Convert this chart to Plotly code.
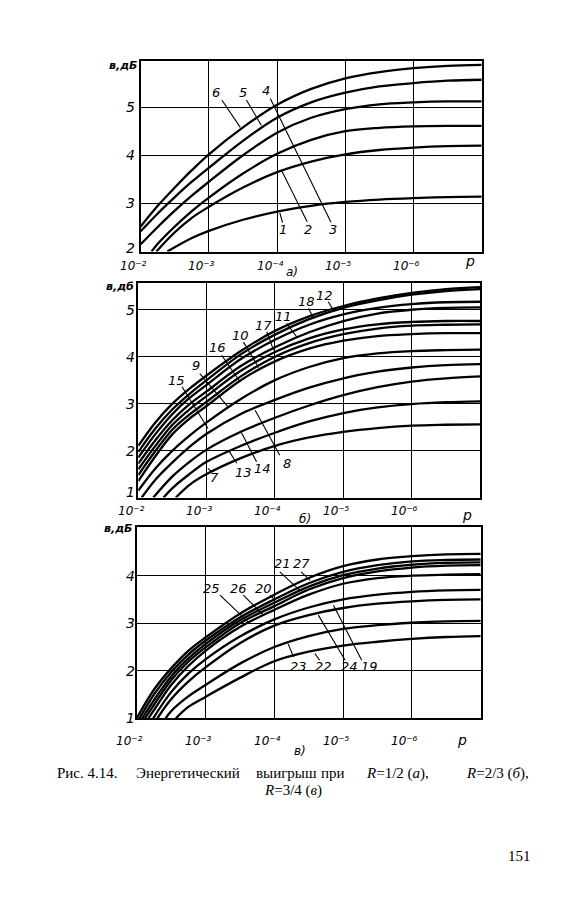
import numpy as np
import plotly.graph_objects as go

# ---------------- data: x = log10(p), y = energy gain в, дБ ----------------
G = [-2, -2.25, -2.5, -2.75, -3, -3.5, -4, -4.5, -5, -5.5, -6, -6.5, -7]

# Panel а) R = 1/2
A_LOGP = {
    "1": [-2.39, -2.75, -3, -3.5, -4, -4.5, -5, -5.5, -6, -6.5, -7],
    "2": [-2.23, -2.5, -2.75, -3, -3.5, -4, -4.5, -5, -5.5, -6, -6.5, -7],
    "3": [-2.16, -2.25, -2.5, -2.75, -3, -3.5, -4, -4.5, -5, -5.5, -6, -6.5, -7],
    "4": G, "5": G, "6": G,
}
A_GAIN = {
    "1": [2.0, 2.28, 2.43, 2.66, 2.83, 2.95, 3.03, 3.08, 3.11, 3.13, 3.14],
    "2": [2.0, 2.40, 2.70, 2.93, 3.33, 3.65, 3.87, 4.02, 4.11, 4.16, 4.19, 4.20],
    "3": [2.0, 2.16, 2.52, 2.84, 3.12, 3.62, 4.03, 4.32, 4.50, 4.57, 4.60, 4.61, 4.61],
    "4": [2.15, 2.51, 2.85, 3.16, 3.45, 4.00, 4.47, 4.78, 4.96, 5.06, 5.10, 5.12, 5.12],
    "5": [2.42, 2.79, 3.13, 3.45, 3.74, 4.30, 4.78, 5.10, 5.30, 5.43, 5.50, 5.55, 5.57],
    "6": [2.52, 2.95, 3.33, 3.69, 4.02, 4.58, 5.05, 5.38, 5.60, 5.73, 5.81, 5.86, 5.88],
}

# Panel б) R = 2/3
B_LOGP = {
    "7": [-2.55, -2.75, -3, -3.5, -4, -4.5, -5, -5.5, -6, -6.5, -7],
    "13": [-2.37, -2.5, -2.75, -3, -3.5, -4, -4.5, -5, -5.5, -6, -6.5, -7],
    "14": [-2.22, -2.5, -2.75, -3, -3.5, -4, -4.5, -5, -5.5, -6, -6.5, -7],
    "8": [-2.05, -2.25, -2.5, -2.75, -3, -3.5, -4, -4.5, -5, -5.5, -6, -6.5, -7],
    "15": G, "9": G, "16": G, "10": G, "17": G, "11": G, "18": G, "12": G,
}
B_GAIN = {
    "7": [1.0, 1.27, 1.50, 1.84, 2.10, 2.28, 2.40, 2.48, 2.53, 2.55, 2.56],
    "13": [1.0, 1.20, 1.50, 1.76, 2.10, 2.38, 2.62, 2.80, 2.92, 2.99, 3.03, 3.05],
    "14": [1.0, 1.45, 1.76, 2.02, 2.40, 2.70, 2.96, 3.18, 3.35, 3.47, 3.54, 3.58],
    "8": [1.0, 1.38, 1.75, 2.08, 2.36, 2.78, 3.08, 3.34, 3.54, 3.68, 3.77, 3.82, 3.84],
    "15": [1.15, 1.62, 2.00, 2.32, 2.60, 3.10, 3.50, 3.78, 3.97, 4.07, 4.12, 4.14, 4.15],
    "9": [1.35, 1.88, 2.35, 2.68, 2.95, 3.50, 3.90, 4.17, 4.34, 4.44, 4.48, 4.50, 4.50],
    "16": [1.48, 1.99, 2.45, 2.77, 3.04, 3.58, 4.00, 4.29, 4.48, 4.60, 4.66, 4.68, 4.69],
    "10": [1.60, 2.10, 2.55, 2.88, 3.16, 3.70, 4.10, 4.39, 4.58, 4.69, 4.74, 4.76, 4.76],
    "17": [1.72, 2.22, 2.65, 2.99, 3.26, 3.80, 4.20, 4.52, 4.76, 4.92, 5.00, 5.04, 5.05],
    "11": [1.85, 2.35, 2.78, 3.12, 3.40, 3.95, 4.36, 4.68, 4.90, 5.04, 5.12, 5.16, 5.17],
    "18": [1.97, 2.47, 2.88, 3.21, 3.50, 4.05, 4.47, 4.80, 5.04, 5.20, 5.32, 5.40, 5.44],
    "12": [2.10, 2.60, 3.00, 3.32, 3.60, 4.12, 4.55, 4.86, 5.08, 5.24, 5.36, 5.44, 5.48],
}

# Panel в) R = 3/4
C_LOGP = {
    "22": [-2.57, -2.75, -3, -3.5, -4, -4.5, -5, -5.5, -6, -6.5, -7],
    "23": [-2.42, -2.5, -2.75, -3, -3.5, -4, -4.5, -5, -5.5, -6, -6.5, -7],
    "24": [-2.30, -2.5, -2.75, -3, -3.5, -4, -4.5, -5, -5.5, -6, -6.5, -7],
    "19": [-2.24, -2.5, -2.75, -3, -3.5, -4, -4.5, -5, -5.5, -6, -6.5, -7],
    "20": [-2.17, -2.25, -2.5, -2.75, -3, -3.5, -4, -4.5, -5, -5.5, -6, -6.5, -7],
    "26": [-2.12, -2.25, -2.5, -2.75, -3, -3.5, -4, -4.5, -5, -5.5, -6, -6.5, -7],
    "25": [-2.08, -2.25, -2.5, -2.75, -3, -3.5, -4, -4.5, -5, -5.5, -6, -6.5, -7],
    "21": [-2.04, -2.25, -2.5, -2.75, -3, -3.5, -4, -4.5, -5, -5.5, -6, -6.5, -7],
    "27": G,
}
C_GAIN = {
    "22": [1.0, 1.24, 1.45, 1.85, 2.20, 2.40, 2.53, 2.61, 2.67, 2.71, 2.73],
    "23": [1.0, 1.15, 1.46, 1.70, 2.15, 2.50, 2.73, 2.88, 2.96, 3.01, 3.04, 3.05],
    "24": [1.0, 1.40, 1.77, 2.07, 2.58, 2.95, 3.17, 3.32, 3.41, 3.46, 3.49, 3.50],
    "19": [1.0, 1.55, 1.94, 2.24, 2.72, 3.08, 3.33, 3.50, 3.60, 3.66, 3.69, 3.70],
    "20": [1.0, 1.17, 1.70, 2.10, 2.42, 2.92, 3.28, 3.60, 3.83, 3.95, 4.00, 4.02, 4.03],
    "26": [1.0, 1.28, 1.80, 2.19, 2.49, 3.00, 3.36, 3.71, 3.95, 4.09, 4.17, 4.21, 4.22],
    "25": [1.0, 1.38, 1.88, 2.26, 2.56, 3.06, 3.43, 3.77, 4.01, 4.15, 4.23, 4.27, 4.28],
    "21": [1.0, 1.50, 1.97, 2.34, 2.63, 3.12, 3.50, 3.84, 4.08, 4.22, 4.30, 4.33, 4.34],
    "27": [1.0, 1.60, 2.05, 2.42, 2.70, 3.20, 3.60, 3.95, 4.20, 4.34, 4.41, 4.45, 4.46],
}

# axis ticks
X_TICKS = [-2, -3, -4, -5, -6]
X_TICKTEXT = ["10\u207b\u00b2", "10\u207b\u00b3", "10\u207b\u2074",
              "10\u207b\u2075", "10\u207b\u2076"]
X_GRID = [1e-3, 1e-4, 1e-5, 1e-6]
A_YTICKS = [2, 3, 4, 5]
B_YTICKS = [1, 2, 3, 4, 5]
C_YTICKS = [1, 2, 3, 4]

# curve label positions (log10 p, gain) and leader lines
A_LABELS = {"6": (-3.11, 5.30), "5": (-3.50, 5.30), "4": (-3.84, 5.34),
            "1": (-4.08, 2.45), "2": (-4.46, 2.45), "3": (-4.82, 2.45)}
A_LEADERS = [((-3.19, 5.15), (-3.46, 4.58)), ((-3.55, 5.15), (-3.77, 4.62)),
             ((-3.90, 5.18), (-4.79, 2.61)), ((-4.06, 3.70), (-4.44, 2.62)),
             ((-4.04, 2.80), (-4.08, 2.60))]
B_LABELS = {"12": (-4.73, 5.31), "18": (-4.46, 5.17), "11": (-4.13, 4.86),
            "17": (-3.83, 4.67), "10": (-3.49, 4.46), "16": (-3.16, 4.20),
            "9": (-2.84, 3.82), "15": (-2.56, 3.50), "8": (-4.17, 1.73),
            "14": (-3.82, 1.61), "13": (-3.54, 1.53), "7": (-3.11, 1.43)}
B_LEADERS = [((-4.78, 5.17), (-4.85, 5.00)), ((-4.49, 5.03), (-4.56, 4.83)),
             ((-4.17, 4.71), (-4.32, 4.42)), ((-3.88, 4.53), (-3.98, 4.14)),
             ((-3.54, 4.31), (-3.76, 3.77)), ((-3.22, 4.03), (-3.49, 3.46)),
             ((-2.90, 3.64), (-3.32, 2.92)), ((-2.64, 3.36), (-3.02, 2.47)),
             ((-4.07, 1.90), (-3.71, 2.86)), ((-3.73, 1.76), (-3.51, 2.38)),
             ((-3.44, 1.73), (-3.32, 2.01)), ((-3.07, 1.55), (-3.02, 1.62))]
C_LABELS = {"21": (-4.12, 4.25), "27": (-4.39, 4.25), "25": (-3.09, 3.73),
            "26": (-3.48, 3.73), "20": (-3.84, 3.73), "23": (-4.35, 2.08),
            "22": (-4.71, 2.08), "24": (-5.09, 2.08), "19": (-5.39, 2.08)}
C_LEADERS = [((-4.08, 4.08), (-4.37, 3.69)), ((-4.39, 4.08), (-4.52, 3.90)),
             ((-3.21, 3.59), (-3.62, 3.03)), ((-3.55, 3.59), (-3.84, 3.17)),
             ((-3.94, 3.59), (-4.01, 3.48)), ((-4.28, 2.29), (-4.20, 2.57)),
             ((-4.66, 2.22), (-4.59, 2.36)), ((-5.03, 2.22), (-4.64, 3.17)),
             ((-5.27, 2.22), (-4.86, 3.38))]

# ---------------- layout helpers (page pixels -> paper) ----------------
OFF = 8                      # default page margin of the html body
W, H = 585 - OFF, 900 - OFF
def fx(px):
    return (px - OFF) / W
def fy(py):
    return 1 - (py - OFF) / H

PANELS = [
    dict(xa="x", ya="y", xdom=(140.7, 481.7), ydom=(60.5, 251.5), yr=(2, 5.97),
         ygrid=[3, 4, 5], logp=A_LOGP, gain=A_GAIN, labels=A_LABELS,
         leaders=A_LEADERS, yticks=A_YTICKS, bot_shift=3, xlab_y=266, ylab="в,дБ",
         ylab_pos=(123, 65), sub="а)", sub_pos=(292, 272), p_pos=(470, 261)),
    dict(xa="x2", ya="y2", xdom=(138.3, 480.0), ydom=(283.0, 497.5), yr=(1, 5.57),
         ygrid=[2, 3, 4, 5], logp=B_LOGP, gain=B_GAIN, labels=B_LABELS,
         leaders=B_LEADERS, yticks=B_YTICKS, bot_shift=5, xlab_y=511, ylab="в,дб",
         ylab_pos=(120, 287), sub="б)", sub_pos=(305, 519), p_pos=(467, 515)),
    dict(xa="x3", ya="y3", xdom=(136.7, 480.7), ydom=(526.7, 718.3), yr=(1, 5.03),
         ygrid=[2, 3, 4], logp=C_LOGP, gain=C_GAIN, labels=C_LABELS,
         leaders=C_LEADERS, yticks=C_YTICKS, bot_shift=0, xlab_y=741, ylab="в,дБ",
         ylab_pos=(118, 528), sub="в)", sub_pos=(300, 751), p_pos=(462, 740)),
]

def ifont(size, weight="normal"):
    return dict(family="DejaVu Sans", size=size, color="black",
                style="italic", weight=weight)

fig = go.Figure()
annotations = []
layout_axes = {}

for i, P in enumerate(PANELS):
    sfx = "" if i == 0 else str(i + 1)
    layout_axes["xaxis" + sfx] = dict(
        type="log", range=[-2, -7], domain=[fx(P["xdom"][0]), fx(P["xdom"][1])],
        anchor=P["ya"], tickvals=X_GRID, showticklabels=False, ticks="",
        showgrid=True, gridcolor="black", gridwidth=1.4, zeroline=False,
        showline=True, mirror=True, linecolor="black", linewidth=2)
    layout_axes["yaxis" + sfx] = dict(
        range=list(P["yr"]), domain=[fy(P["ydom"][1]), fy(P["ydom"][0])],
        anchor=P["xa"], tickvals=P["ygrid"], showticklabels=False, ticks="",
        showgrid=True, gridcolor="black", gridwidth=1.4, zeroline=False,
        showline=True, mirror=True, linecolor="black", linewidth=2)

    for name in P["logp"]:
        fig.add_trace(go.Scatter(
            x=10 ** np.array(P["logp"][name], dtype=float), y=P["gain"][name],
            mode="lines", name=name, xaxis=P["xa"], yaxis=P["ya"],
            line=dict(color="black", width=2.3, shape="spline", smoothing=1.0),
            hoverinfo="skip", showlegend=False))

    for (x0, y0), (x1, y1) in P["leaders"]:
        fig.add_trace(go.Scatter(
            x=[10 ** x0, 10 ** x1], y=[y0, y1], mode="lines",
            xaxis=P["xa"], yaxis=P["ya"], line=dict(color="black", width=1.1),
            hoverinfo="skip", showlegend=False))

    for name, (lx, ly) in P["labels"].items():
        annotations.append(dict(
            x=lx, y=ly, xref=P["xa"], yref=P["ya"], text=name,
            showarrow=False, font=ifont(13), xanchor="center", yanchor="middle"))

    for tv, tt in zip(X_TICKS, X_TICKTEXT):
        annotations.append(dict(
            x=tv, y=fy(P["xlab_y"]), xref=P["xa"], yref="paper",
            text=tt, showarrow=False, font=ifont(12),
            xanchor="center", yanchor="middle", xshift=-7))

    for yv in P["yticks"]:
        annotations.append(dict(
            x=fx(130), y=yv, xref="paper", yref=P["ya"], text=str(yv),
            showarrow=False, font=ifont(14), xanchor="center", yanchor="middle",
            yshift=P["bot_shift"] if yv == P["yr"][0] else 0))

    annotations.append(dict(
        x=fx(P["ylab_pos"][0]), y=fy(P["ylab_pos"][1]), xref="paper", yref="paper",
        text=P["ylab"], showarrow=False, font=ifont(11, "bold"),
        xanchor="center", yanchor="middle"))
    annotations.append(dict(
        x=fx(P["sub_pos"][0]), y=fy(P["sub_pos"][1]), xref="paper", yref="paper",
        text=P["sub"], showarrow=False, font=ifont(12),
        xanchor="center", yanchor="middle"))
    annotations.append(dict(
        x=fx(P["p_pos"][0]), y=fy(P["p_pos"][1]), xref="paper", yref="paper",
        text="p", showarrow=False, font=ifont(14),
        xanchor="center", yanchor="middle"))

# caption (words spread as in the justified printed line)
SERIF = dict(family="Liberation Serif", size=15, color="black")
CAPTION_PARTS = [
    ("Рис. 4.14.", 87, 773), ("Энергетический", 188, 773), ("выигрыш", 286.5, 773),
    ("при", 332.5, 773), ("<i>R</i>=1/2 (<i>а</i>),", 397, 773),
    ("<i>R</i>=2/3 (<i>б</i>),", 497.5, 773), ("<i>R</i>=3/4 (<i>в</i>)", 293, 790),
]
for txt, px, py in CAPTION_PARTS:
    annotations.append(dict(x=fx(px), y=fy(py), xref="paper", yref="paper",
                            text=txt, showarrow=False, font=SERIF,
                            xanchor="center", yanchor="middle"))
annotations.append(dict(x=fx(519), y=fy(856), xref="paper", yref="paper",
                        text="151", showarrow=False, font=SERIF,
                        xanchor="center", yanchor="middle"))

fig.update_layout(
    width=W, height=H, autosize=False,
    margin=dict(l=0, r=0, t=0, b=0, pad=0),
    paper_bgcolor="white", plot_bgcolor="white",
    showlegend=False, annotations=annotations, **layout_axes)

fig.write_html("out.html")
